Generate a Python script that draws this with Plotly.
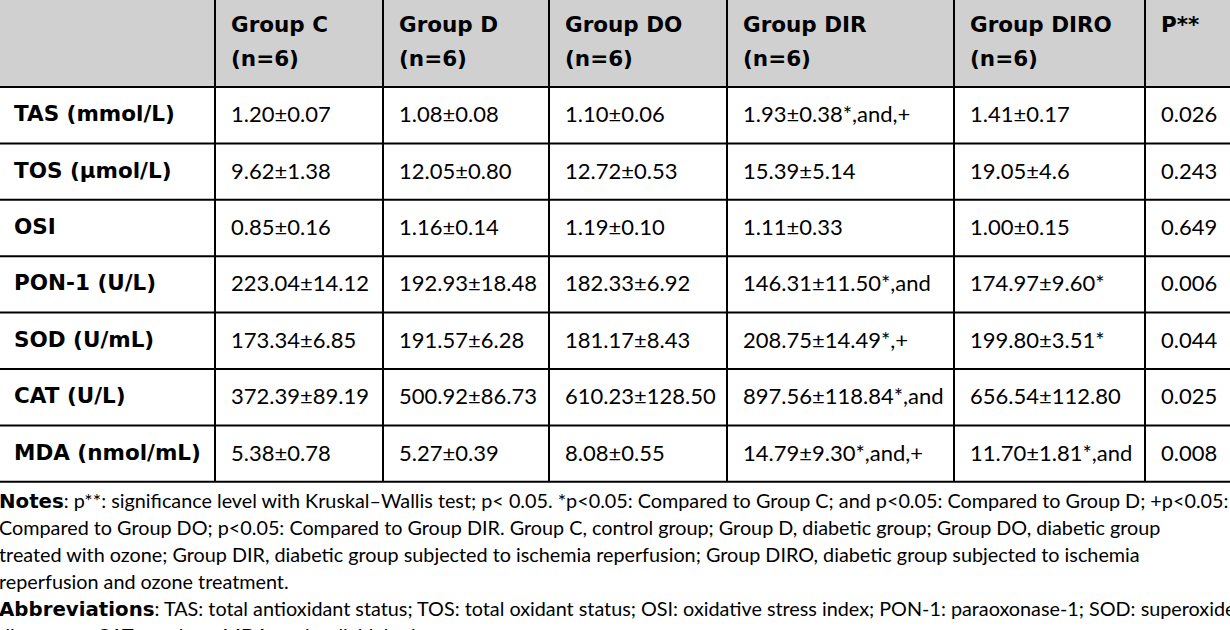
import plotly.graph_objects as go

FONT = "Lato"
BOLD_FONT = "DejaVu Sans"
HEADER_FILL = "#d0d0d0"
LINE_COLOR = "black"

groups = ["Group C", "Group D", "Group DO", "Group DIR", "Group DIRO", "P**"]
group_n = ["(n=6)", "(n=6)", "(n=6)", "(n=6)", "(n=6)", ""]

parameters = ["TAS (mmol/L)", "TOS (µmol/L)", "OSI", "PON-1 (U/L)",
              "SOD (U/mL)", "CAT (U/L)", "MDA (nmol/mL)"]

group_c = ["1.20±0.07", "9.62±1.38", "0.85±0.16", "223.04±14.12",
           "173.34±6.85", "372.39±89.19", "5.38±0.78"]
group_d = ["1.08±0.08", "12.05±0.80", "1.16±0.14", "192.93±18.48",
           "191.57±6.28", "500.92±86.73", "5.27±0.39"]
group_do = ["1.10±0.06", "12.72±0.53", "1.19±0.10", "182.33±6.92",
            "181.17±8.43", "610.23±128.50", "8.08±0.55"]
group_dir = ["1.93±0.38*,and,+", "15.39±5.14", "1.11±0.33", "146.31±11.50*,and",
             "208.75±14.49*,+", "897.56±118.84*,and", "14.79±9.30*,and,+"]
group_diro = ["1.41±0.17", "19.05±4.6", "1.00±0.15", "174.97±9.60*",
              "199.80±3.51*", "656.54±112.80", "11.70±1.81*,and"]
p_values = ["0.026", "0.243", "0.649", "0.006", "0.044", "0.025", "0.008"]

note_lines = [
    "<b>Notes</b>: p**: significance level with Kruskal–Wallis test; p< 0.05. *p<0.05: Compared to Group C; and p<0.05: Compared to Group D; +p<0.05:",
    "Compared to Group DO; p<0.05: Compared to Group DIR. Group C, control group; Group D, diabetic group; Group DO, diabetic group",
    "treated with ozone; Group DIR, diabetic group subjected to ischemia reperfusion; Group DIRO, diabetic group subjected to ischemia",
    "reperfusion and ozone treatment.",
    "<b>Abbreviations</b>: TAS: total antioxidant status; TOS: total oxidant status; OSI: oxidative stress index; PON-1: paraoxonase-1; SOD: superoxide",
    "dismutase; CAT: catalase; MDA: malondialdehyde.",
]

# table geometry (pixels)
col_edges = [0, 215, 383, 549, 727, 954, 1145, 1236]
header_bottom = 87
row_h = 56.4
pad = 14
cell_size = 22
bold_size = 21.5
note_size = 19.8
note_top = 500
note_step = 27

columns = [group_c, group_d, group_do, group_dir, group_diro, p_values]
n_rows = len(parameters)
row_edges = [header_bottom + i * row_h for i in range(n_rows + 1)]

fig = go.Figure()
shapes = []
annotations = []

shapes.append(dict(type="rect", x0=-5, x1=1240, y0=-5, y1=header_bottom,
                   fillcolor=HEADER_FILL, line_width=0, layer="below"))
for y in row_edges:
    shapes.append(dict(type="line", x0=-5, x1=1240, y0=y, y1=y,
                       line=dict(color=LINE_COLOR, width=2)))
for x in col_edges[1:]:
    shapes.append(dict(type="line", x0=x, x1=x, y0=-5, y1=row_edges[-1],
                       line=dict(color=LINE_COLOR, width=2)))


def add_text(x, y, text, size, bold=False, shift=0, yshift=0):
    annotations.append(dict(
        x=x, y=y, xref="x", yref="y", xanchor="left", yanchor="middle",
        xshift=shift, yshift=yshift,
        text=f"<b>{text}</b>" if bold else text, showarrow=False,
        font=dict(family=BOLD_FONT if bold else FONT, size=size, color="black"),
    ))


# header
for j, (g, n) in enumerate(zip(groups, group_n)):
    x = col_edges[j + 1] + pad
    add_text(x, 24, g, bold_size, bold=True)
    if n:
        add_text(x, 58, n, bold_size, bold=True)

# body
for i, p in enumerate(parameters):
    yc = (row_edges[i] + row_edges[i + 1]) / 2 - 1.5
    add_text(col_edges[0] + 12, yc, p, bold_size, bold=True)
    for j, col in enumerate(columns):
        add_text(col_edges[j + 1] + pad, yc, col[i], cell_size)

# notes (anchored at the first line, later lines shifted down)
bold_span = f'<span style="font-family:{BOLD_FONT}">'
for k, line in enumerate(note_lines):
    line = line.replace("<b>", bold_span + "<b>").replace("</b>", "</b></span>")
    add_text(0, note_top, line, note_size, shift=-3, yshift=-k * note_step)

fig.update_layout(
    width=1230, height=630,
    margin=dict(l=0, r=0, t=0, b=0),
    paper_bgcolor="white", plot_bgcolor="white",
    xaxis=dict(range=[0, 1230], visible=False, fixedrange=True),
    yaxis=dict(range=[630, 0], visible=False, fixedrange=True),
    shapes=shapes, annotations=annotations,
    showlegend=False,
)

fig.write_html("out.html", config={"displayModeBar": False},
               post_script="document.body.style.margin='0';")
